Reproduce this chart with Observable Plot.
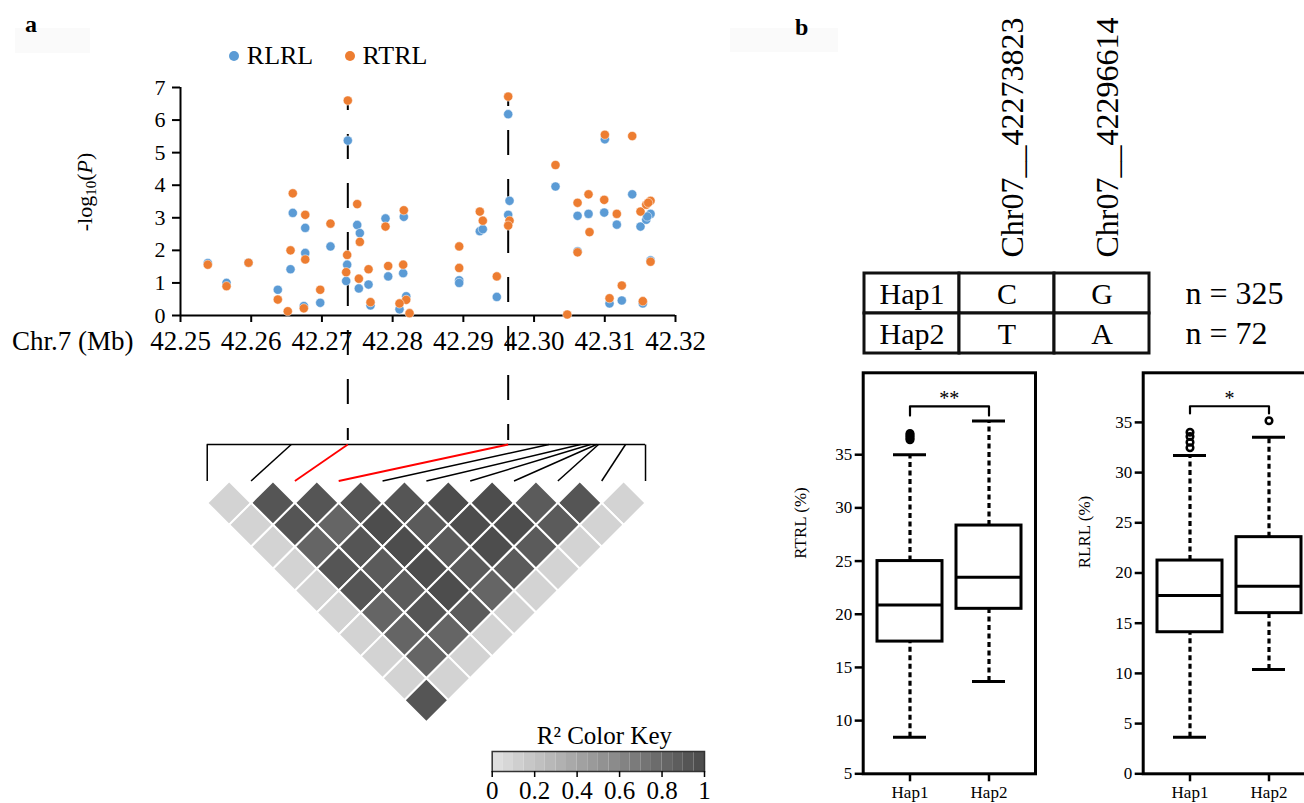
<!DOCTYPE html>
<html><head><meta charset="utf-8">
<script src="https://cdn.jsdelivr.net/npm/d3@7"></script>
<script src="https://cdn.jsdelivr.net/npm/@observablehq/plot@0.6"></script>
<style>
html,body{margin:0;padding:0;background:#fff;overflow:hidden;}
#root{position:relative;width:1304px;height:803px;overflow:hidden;font-family:'Liberation Serif','Times New Roman',serif;color:#000;background:#fff;}
.abs{position:absolute;white-space:nowrap;}
.plot{position:absolute;overflow:visible;}
#root svg text{font-family:'Liberation Serif','Times New Roman',serif !important;}
</style></head><body><div id="root"></div>
<script>
// ---------------- DATA ----------------
const xTicks = [42.25, 42.26, 42.27, 42.28, 42.29, 42.30, 42.31, 42.32];
const yTicks = [0, 1, 2, 3, 4, 5, 6, 7];

const rlrlPos = [42.25386,42.25651,42.25962,42.26376,42.26556,42.26588,42.26764,42.26764,42.26744,42.26976,42.27121,42.27366,42.27357,42.27343,42.27499,42.27536,42.27522,42.27659,42.27687,42.27899,42.27937,42.28158,42.28149,42.28192,42.28097,42.28941,42.28941,42.29233,42.29275,42.29473,42.29634,42.29653,42.29634,42.30303,42.30615,42.30615,42.30770,42.30992,42.31001,42.31170,42.31067,42.31241,42.31388,42.31505,42.31538,42.31586,42.31647,42.31600,42.31647];
const rlrlLogP = [1.61,1.00,1.62,0.79,1.42,3.15,2.69,1.92,0.29,0.39,2.12,5.37,1.56,1.06,2.78,2.53,0.83,0.95,0.31,2.98,1.20,3.03,1.30,0.59,0.19,1.08,1.00,2.59,2.65,0.57,6.18,3.52,3.09,3.96,3.06,1.97,3.12,3.16,5.41,2.79,0.37,0.46,3.72,2.73,0.37,2.94,3.12,3.04,1.69];

const rtrlPos = [42.25386,42.25651,42.25962,42.26376,42.26517,42.26556,42.26588,42.26764,42.26764,42.26744,42.26976,42.27121,42.27366,42.27357,42.27343,42.27499,42.27536,42.27522,42.27659,42.27687,42.27899,42.27937,42.28158,42.28149,42.28192,42.28097,42.28239,42.28941,42.28941,42.29233,42.29275,42.29473,42.29634,42.29653,42.29634,42.30303,42.30469,42.30615,42.30615,42.30770,42.30784,42.30992,42.31001,42.31170,42.31067,42.31241,42.31388,42.31505,42.31538,42.31586,42.31647,42.31614,42.31647];
const rtrlLogP = [1.56,0.90,1.62,0.49,0.13,2.00,3.75,3.09,1.72,0.22,0.79,2.82,6.60,1.86,1.33,3.42,2.26,1.13,1.42,0.41,2.73,1.52,3.23,1.56,0.48,0.37,0.07,2.12,1.46,3.19,2.91,1.20,6.72,2.91,2.76,4.62,0.03,3.46,1.94,3.72,2.56,3.55,5.55,3.12,0.53,0.92,5.51,3.19,0.44,3.40,3.52,3.46,1.65];

const peakPos = [42.27366, 42.29634];
const peakLogP = [6.60, 6.72];

// LD block SNPs (Mb) and the two lead SNPs (index)
const ldSnpPos = [42.25378,42.26566,42.27366,42.29634,42.30209,42.30657,42.30798,42.30883,42.30911,42.31293,42.31576];
const ldLeadIdx = [2, 3];
// R2 by diagonal: ldR2[d-1][k] = r2(SNP k, SNP k+d)
const ldR2 = [
  [0.10,0.93,0.93,0.93,0.93,0.98,0.98,0.89,0.93,0.10],
  [0.10,0.93,0.82,0.98,0.89,0.98,0.98,0.89,0.10],
  [0.10,0.82,0.93,0.98,0.89,0.98,0.89,0.10],
  [0.10,0.93,0.89,0.98,0.89,0.89,0.10],
  [0.10,0.93,0.89,0.98,0.82,0.10],
  [0.10,0.82,0.93,0.89,0.10],
  [0.10,0.82,0.82,0.10],
  [0.10,0.82,0.10],
  [0.10,0.10],
  [0.93]
];
const keyTicks = [0, 0.2, 0.4, 0.6, 0.8, 1];

// Panel b
const haps = ["Hap1", "Hap2"];
const snpNames = ["Chr07__42273823", "Chr07__42296614"];
const hapAlleles = [["C", "G"], ["T", "A"]];
const hapN = [325, 72];
// [lower whisker, Q1, median, Q3, upper whisker]
const rtrlStats = [[8.44, 17.43, 20.88, 25.0, 35.0], [13.67, 20.51, 23.48, 28.34, 38.18]];
const rtrlOutliers = [["Hap1", 36.4], ["Hap1", 36.55], ["Hap1", 36.7], ["Hap1", 36.85], ["Hap1", 37.0]];
const rlrlStats = [[3.65, 14.10, 17.76, 21.24, 31.70], [10.39, 16.0, 18.69, 23.57, 33.53]];
const rlrlOutliers = [["Hap1", 32.47], ["Hap1", 33.03], ["Hap1", 33.6], ["Hap1", 34.02], ["Hap2", 35.16]];

// ---------------- HELPERS ----------------
const root = document.getElementById("root");
const SERIF = "'Liberation Serif', 'Times New Roman', serif";
function place(el, left, top) {
  el.classList.add("plot");
  el.style.left = left + "px"; el.style.top = top + "px";
  root.appendChild(el);
}
function label(html, x, baseline, size, opts = {}) {
  const d = document.createElement("div");
  d.className = "abs";
  d.innerHTML = html;
  d.style.fontSize = size + "px";
  d.style.lineHeight = size + "px";
  if (opts.weight) d.style.fontWeight = opts.weight;
  d.style.top = (baseline - 0.8375 * size) + "px";
  d.style.left = x + "px";
  root.appendChild(d);
  return d;
}
function box(left, top, w, h, bg) {
  const d = document.createElement("div");
  d.className = "abs";
  Object.assign(d.style, {left: left + "px", top: top + "px", width: w + "px", height: h + "px", background: bg});
  root.appendChild(d);
}

// faint panel-label boxes and labels
box(15, 28, 75, 25, "#fafafa");
box(730, 28, 108, 24, "#fafafa");
label("a", 25, 32, 24, {weight: "bold"});
label("b", 795, 35, 24, {weight: "bold"});

// ---------------- PANEL A ----------------
const A_W = 720, A_H = 803, A_ML = 180, A_MR = 45, A_MT = 87, A_MB = 488;
const xPx = (A_W - A_MR - A_ML) / (xTicks[xTicks.length - 1] - xTicks[0]); // px per Mb
const yUnitPx = (A_H - A_MB - A_MT) / (yTicks[yTicks.length - 1] - yTicks[0]);
const pxToY = px => ((A_H - A_MB) - px) / yUnitPx; // layout helper for the LD block below the axis

const LD_BRACKET_Y = pxToY(444);
const LD_DASH_END = pxToY(440);
const LD_GRID_TOP = pxToY(480.5);
const LD_ROW0 = pxToY(502.4);
const nSnp = ldSnpPos.length;
const gridStepMb = (ldSnpPos[nSnp - 1] - ldSnpPos[0]) / (nSnp - 1);
const gridStepPx = gridStepMb * xPx;
const LD_ROW_STEP = (gridStepPx / 2) / yUnitPx;
const gridX = k => ldSnpPos[0] + k * gridStepMb;
const cellSide = gridStepPx / Math.SQRT2;

const ldCells = [];
ldR2.forEach((row, di) => row.forEach((r2, k) => {
  const i = k, j = k + di + 1;
  ldCells.push({x: (gridX(i) + gridX(j)) / 2, y: LD_ROW0 - di * LD_ROW_STEP, r2});
}));
const ldLinks = ldSnpPos.map((p, k) => ({x1: p, y1: LD_BRACKET_Y, x2: gridX(k), y2: LD_GRID_TOP, lead: ldLeadIdx.includes(k)}));

const rlrl = rlrlPos.map((x, i) => ({x, y: rlrlLogP[i]}));
const rtrl = rtrlPos.map((x, i) => ({x, y: rtrlLogP[i]}));
const dashes = peakPos.map((x, i) => ({x, top: peakLogP[i], bottom: LD_DASH_END}));

const grayScale = {type: "linear", domain: [0, 1], range: ["#e2e2e2", "#4a4a4a"]};
const baseStyle = {fontFamily: SERIF, background: "transparent", overflow: "visible", color: "#000"};

const plotA = Plot.plot({
  width: A_W, height: A_H,
  marginLeft: A_ML, marginRight: A_MR, marginTop: A_MT, marginBottom: A_MB,
  x: {domain: [xTicks[0], xTicks[xTicks.length - 1]]},
  y: {domain: [yTicks[0], yTicks[yTicks.length - 1]]},
  color: grayScale,
  style: baseStyle,
  marks: [
    Plot.axisX({ticks: xTicks, tickFormat: d3.format(".2f"), tickSize: 7, tickPadding: 8, fontSize: 27, fontFamily: SERIF, strokeWidth: 2, label: null}),
    Plot.axisY({ticks: yTicks, tickFormat: d3.format("d"), tickSize: 8, tickPadding: 7, fontSize: 22, fontFamily: SERIF, strokeWidth: 2, label: null}),
    Plot.ruleY([0], {strokeWidth: 2}),
    Plot.ruleX([xTicks[0]], {y1: yTicks[0], y2: yTicks[yTicks.length - 1], strokeWidth: 2}),
    Plot.text(["Chr.7 (Mb)"], {x: xTicks[0], y: 0, dx: -47, dy: 26, textAnchor: "end", fontSize: 27, fontFamily: SERIF}),
    // dashed guides from lead SNPs down to LD block
    Plot.ruleX(dashes, {x: "x", y1: "top", y2: "bottom", stroke: "#000", strokeWidth: 2, strokeDasharray: "25,24", strokeDashoffset: 15}),
    Plot.dot(rlrl, {x: "x", y: "y", r: 4.6, fill: "#5b9bd5", stroke: "white", strokeWidth: 0.5}),
    Plot.dot(rtrl, {x: "x", y: "y", r: 4.6, fill: "#ed7d31", stroke: "white", strokeWidth: 0.5}),
    // LD bracket and links
    Plot.ruleY([LD_BRACKET_Y], {x1: ldSnpPos[0], x2: ldSnpPos[nSnp - 1], stroke: "#000", strokeWidth: 1.5}),
    Plot.link(ldLinks.filter(d => !d.lead), {x1: "x1", y1: "y1", x2: "x2", y2: "y2", stroke: "#000", strokeWidth: 1.5}),
    Plot.link(ldLinks.filter(d => d.lead), {x1: "x1", y1: "y1", x2: "x2", y2: "y2", stroke: "#ff0000", strokeWidth: 1.8}),
    Plot.dot(ldCells, {x: "x", y: "y", fill: "r2", symbol: "square", rotate: 45, r: cellSide / Math.sqrt(Math.PI), stroke: "white", strokeWidth: 2})
  ]
});
place(plotA, 0, 0);

// y label with subscript and italic P
const yl = label("-log<sub style='font-size:15px;vertical-align:-4px'>10</sub>(<i>P</i>)", 88, 200, 22);
yl.style.left = "88px"; yl.style.top = "192px";
yl.style.transform = "translate(-50%,-50%) rotate(-90deg)";

// legend
function legendItem(cx, color, text) {
  const dot = document.createElement("div");
  dot.className = "abs";
  Object.assign(dot.style, {left: (cx - 5) + "px", top: (55.7 - 5) + "px", width: "10px", height: "10px", borderRadius: "50%", background: color});
  root.appendChild(dot);
  label(text, cx + 12.5, 65, 26);
}
legendItem(234.3, "#5b9bd5", "RLRL");
legendItem(350, "#ed7d31", "RTRL");

// colour key
const keyBins = d3.range(20).map(i => ({x1: i / 20, x2: (i + 1) / 20, v: (i + 0.5) / 20}));
const plotKey = Plot.plot({
  width: 280, height: 88,
  marginLeft: 31.7, marginRight: 36, marginTop: 36, marginBottom: 32,
  x: {domain: [0, 1]},
  y: {domain: [0, 1], axis: null},
  color: grayScale,
  style: baseStyle,
  marks: [
    Plot.rect(keyBins, {x1: "x1", x2: "x2", y1: 0, y2: 1, fill: "v"}),
    Plot.frame({stroke: "#333", strokeWidth: 1.5}),
    Plot.axisX({ticks: keyTicks, tickFormat: d3.format("~g"), tickSize: 6, tickPadding: 4, fontSize: 25, fontFamily: SERIF, strokeWidth: 1.5, label: null}),
    Plot.text(["R² Color Key"], {frameAnchor: "top", lineAnchor: "middle", dx: 6, dy: -16, fontSize: 25, fontFamily: SERIF})
  ]
});
place(plotKey, 460, 715);

// ---------------- PANEL B: haplotype table ----------------
const tableCols = ["hap", ...snpNames];
const tableCells = [];
haps.forEach((h, r) => {
  tableCells.push({col: "hap", row: h, text: h});
  snpNames.forEach((s, c) => tableCells.push({col: s, row: h, text: hapAlleles[r][c]}));
});
const plotTable = Plot.plot({
  width: 460, height: 360,
  marginLeft: 24, marginRight: 150.7, marginTop: 271.7, marginBottom: 6.7,
  x: {type: "band", domain: tableCols, padding: 0, axis: null},
  y: {type: "band", domain: haps, padding: 0, axis: null},
  style: baseStyle,
  marks: [
    Plot.cell(tableCells, {x: "col", y: "row", fill: "white", stroke: "#111", strokeWidth: 3, inset: 0}),
    Plot.text(tableCells, {x: "col", y: "row", text: "text", fontSize: 30, dy: 1, fontFamily: SERIF}),
    Plot.text(snpNames, {x: d => d, frameAnchor: "top", lineAnchor: "middle", rotate: -90, textAnchor: "start", dx: 6, dy: -14.7, fontSize: 32, fontFamily: SERIF}),
    Plot.text(haps, {y: d => d, text: (d, i) => "n = " + hapN[i], frameAnchor: "right", lineAnchor: "middle", textAnchor: "start", dx: 35.7, fontSize: 32, fontFamily: SERIF})
  ]
});
place(plotTable, 840, 0);

// ---------------- PANEL B: box plots ----------------
function boxPlot({stats, outliers, yDomain, ticks, ylabel, sig, sigBar, sigLeg, sigText, labelDx, labelDy, left, width, mr}) {
  const boxes = haps.map((h, i) => ({hap: h, lo: stats[i][0], q1: stats[i][1], med: stats[i][2], q3: stats[i][3], hi: stats[i][4]}));
  const outs = outliers.map(([hap, v]) => ({hap, v}));
  const sigPts = [{hap: haps[0], v: sigLeg}, {hap: haps[0], v: sigBar}, {hap: haps[1], v: sigBar}, {hap: haps[1], v: sigLeg}];
  const p = Plot.plot({
    width, height: 443,
    marginLeft: 82.7, marginRight: mr, marginTop: 12.3, marginBottom: 29.7,
    x: {type: "band", domain: haps, paddingInner: 0.177, paddingOuter: 0.179},
    y: {domain: yDomain},
    style: baseStyle,
    marks: [
      Plot.ruleX(boxes, {x: "hap", y1: "q3", y2: "hi", strokeWidth: 3.2, strokeDasharray: "5,3.5"}),
      Plot.ruleX(boxes, {x: "hap", y1: "lo", y2: "q1", strokeWidth: 3.2, strokeDasharray: "5,3.5"}),
      Plot.barY(boxes, {x: "hap", y1: "q1", y2: "q3", fill: "white", stroke: "#000", strokeWidth: 3}),
      Plot.tickY(boxes, {x: "hap", y: "med", strokeWidth: 3}),
      Plot.tickY(boxes, {x: "hap", y: "hi", strokeWidth: 3, insetLeft: 16, insetRight: 16}),
      Plot.tickY(boxes, {x: "hap", y: "lo", strokeWidth: 3, insetLeft: 16, insetRight: 16}),
      Plot.dot(outs, {x: "hap", y: "v", r: 3.3, stroke: "#000", strokeWidth: 2.5, fill: "none"}),
      Plot.line(sigPts, {x: "hap", y: "v", stroke: "#000", strokeWidth: 2.2}),
      Plot.text([sig], {frameAnchor: "middle", y: sigText, fontSize: 20, fontFamily: SERIF}),
      Plot.frame({strokeWidth: 3}),
      Plot.axisY({ticks, tickSize: 8, tickPadding: 3, fontSize: 17, fontFamily: SERIF, strokeWidth: 2.5, label: null}),
      Plot.axisX({tickSize: 8, tickPadding: 4, fontSize: 17, fontFamily: SERIF, strokeWidth: 2.5, label: null}),
      Plot.text([ylabel], {frameAnchor: "left", rotate: -90, dx: labelDx, dy: labelDy, fontSize: 17, fontFamily: SERIF})
    ]
  });
  place(p, left, 360);
}
boxPlot({stats: rtrlStats, outliers: rtrlOutliers, yDomain: [5, 42.7], ticks: [5, 10, 15, 20, 25, 30, 35],
  ylabel: "RTRL (%)", sig: "**", sigBar: 39.55, sigLeg: 38.68, sigText: 40.27, labelDx: -62.7, labelDy: -14.5,
  left: 780, width: 270, mr: 15});
boxPlot({stats: rlrlStats, outliers: rlrlOutliers, yDomain: [0, 39.94], ticks: [0, 5, 10, 15, 20, 25, 30, 35],
  ylabel: "RLRL (%)", sig: "*", sigBar: 36.61, sigLeg: 35.89, sigText: 37.38, labelDx: -58.7, labelDy: -5,
  left: 1060, width: 270, mr: 14.6});
</script></body></html>
